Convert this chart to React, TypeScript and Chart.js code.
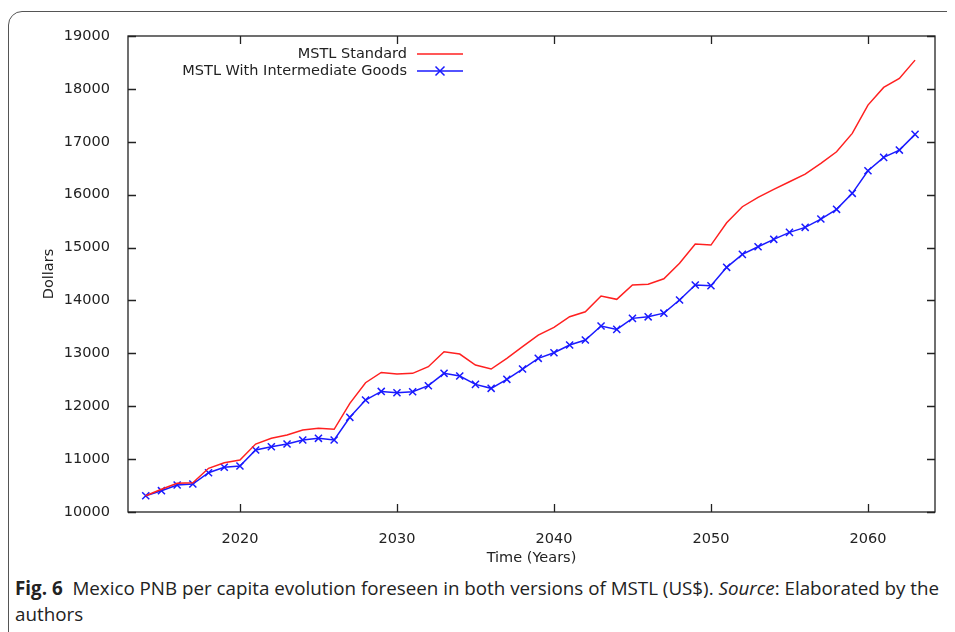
import React, { useEffect, useRef } from "react";
import { Chart, registerables } from "chart.js";

Chart.register(...registerables);

const years = [
  2014, 2015, 2016, 2017, 2018, 2019, 2020, 2021, 2022, 2023,
  2024, 2025, 2026, 2027, 2028, 2029, 2030, 2031, 2032, 2033,
  2034, 2035, 2036, 2037, 2038, 2039, 2040, 2041, 2042, 2043,
  2044, 2045, 2046, 2047, 2048, 2049, 2050, 2051, 2052, 2053,
  2054, 2055, 2056, 2057, 2058, 2059, 2060, 2061, 2062, 2063,
];

const standard = [
  10308, 10429, 10542, 10554, 10826, 10932, 10983, 11285, 11393, 11455,
  11550, 11582, 11563, 12055, 12444, 12638, 12609, 12622, 12747, 13031,
  12987, 12779, 12703, 12905, 13125, 13346, 13491, 13692, 13786, 14083,
  14021, 14291, 14307, 14410, 14702, 15066, 15047, 15469, 15772, 15949,
  16100, 16244, 16389, 16592, 16811, 17159, 17694, 18028, 18198, 18544,
];

const intermediate = [
  10308, 10403, 10510, 10529, 10743, 10845, 10870, 11172, 11234, 11285,
  11361, 11393, 11361, 11790, 12117, 12280, 12255, 12274, 12388, 12622,
  12571, 12413, 12338, 12508, 12703, 12905, 13012, 13157, 13251, 13516,
  13453, 13661, 13690, 13760, 14008, 14291, 14278, 14626, 14871, 15015,
  15155, 15287, 15382, 15539, 15722, 16025, 16452, 16705, 16843, 17140,
];

const xTicks = [2020, 2030, 2040, 2050, 2060];
const yTicks = [10000, 11000, 12000, 13000, 14000, 15000, 16000, 17000, 18000, 19000];
const seriesLabels = ["MSTL Standard", "MSTL With Intermediate Goods"];
const xTitle = "Time (Years)";
const yTitle = "Dollars";

const RED = "#ff2020";
const BLUE = "#1a1aff";
const FONT = "DejaVu Sans";
const FS = 14.5;
const TXT = "#222";

const framePlugin = {
  id: "gnuFrame",
  afterDatasetsDraw(chart: any) {
    const { ctx, chartArea: a, scales } = chart;
    ctx.save();
    ctx.strokeStyle = "#222";
    ctx.lineWidth = 1.3;
    ctx.strokeRect(a.left, a.top, a.right - a.left, a.bottom - a.top);
    const L = 8;
    ctx.beginPath();
    scales.x.ticks.forEach((t: any) => {
      const px = Math.round(scales.x.getPixelForValue(t.value)) + 0.5;
      ctx.moveTo(px, a.bottom);
      ctx.lineTo(px, a.bottom - L);
      ctx.moveTo(px, a.top);
      ctx.lineTo(px, a.top + L);
    });
    scales.y.ticks.forEach((t: any) => {
      const py = Math.round(scales.y.getPixelForValue(t.value)) + 0.5;
      ctx.moveTo(a.left, py);
      ctx.lineTo(a.left + L, py);
      ctx.moveTo(a.right, py);
      ctx.lineTo(a.right - L, py);
    });
    ctx.stroke();

    // legend (top right, text right-aligned, sample to the right)
    ctx.font = `${FS}px "${FONT}"`;
    ctx.fillStyle = TXT;
    ctx.textAlign = "right";
    ctx.textBaseline = "middle";
    const tx = 399;
    const rows = [38, 55];
    const colors = [RED, BLUE];
    seriesLabels.forEach((lab, i) => {
      ctx.fillText(lab, tx, rows[i]);
      ctx.strokeStyle = colors[i];
      ctx.lineWidth = 1.5;
      ctx.beginPath();
      ctx.moveTo(tx + 10, rows[i]);
      ctx.lineTo(tx + 56, rows[i]);
      ctx.stroke();
    });
    // marker in legend
    const mx = tx + 33;
    const my = rows[1];
    const r = 4.5;
    ctx.strokeStyle = BLUE;
    ctx.beginPath();
    ctx.moveTo(mx - r, my - r);
    ctx.lineTo(mx + r, my + r);
    ctx.moveTo(mx - r, my + r);
    ctx.lineTo(mx + r, my - r);
    ctx.stroke();
    ctx.restore();
  },
};

export default function App() {
  const ref = useRef<HTMLCanvasElement | null>(null);

  useEffect(() => {
    if (!ref.current) return;
    const chart = new Chart(ref.current, {
      type: "line",
      data: {
        datasets: [
          {
            label: seriesLabels[0],
            data: years.map((yr, i) => ({ x: yr, y: standard[i] })),
            borderColor: RED,
            borderWidth: 1.5,
            pointRadius: 0,
            tension: 0,
            fill: false,
          },
          {
            label: seriesLabels[1],
            data: years.map((yr, i) => ({ x: yr, y: intermediate[i] })),
            borderColor: BLUE,
            borderWidth: 1.5,
            pointStyle: "crossRot",
            pointRadius: 5,
            pointBorderColor: BLUE,
            pointBorderWidth: 1.5,
            tension: 0,
            fill: false,
          },
        ],
      },
      options: {
        animation: false,
        responsive: false,
        devicePixelRatio: 1,
        layout: { padding: { left: 0, right: 20, top: 20, bottom: 0 } },
        plugins: {
          legend: { display: false },
          tooltip: { enabled: false },
        },
        scales: {
          x: {
            type: "linear",
            min: 2012.87,
            max: 2064.27,
            grid: { display: false },
            border: { display: false },
            afterBuildTicks: (s: any) => {
              s.ticks = xTicks.map((v) => ({ value: v }));
            },
            afterFit: (s: any) => {
              s.height = 63;
            },
            ticks: {
              autoSkip: false,
              maxRotation: 0,
              padding: 11,
              color: TXT,
              font: { family: FONT, size: FS },
              callback: (v: any) => String(v),
            },
            title: {
              display: true,
              text: xTitle,
              color: TXT,
              font: { family: FONT, size: FS },
              padding: { top: 0, bottom: 8 },
            },
          },
          y: {
            type: "linear",
            min: 10000,
            max: 19000,
            grid: { display: false },
            border: { display: false },
            afterBuildTicks: (s: any) => {
              s.ticks = yTicks.map((v) => ({ value: v }));
            },
            afterFit: (s: any) => {
              s.width = 120;
            },
            ticks: {
              autoSkip: false,
              padding: 10,
              color: TXT,
              font: { family: FONT, size: FS },
              callback: (v: any) => String(v),
            },
            title: {
              display: true,
              text: yTitle,
              color: TXT,
              font: { family: FONT, size: FS },
              padding: { top: 33, bottom: 0 },
            },
          },
        },
      },
      plugins: [framePlugin],
    });
    return () => chart.destroy();
  }, []);

  return (
    <div style={{ position: "relative", width: 947, height: 624, overflow: "hidden" }}>
      <div
        style={{
          position: "absolute",
          left: 0,
          top: 3,
          width: 1100,
          height: 1100,
          border: "1.5px solid #555",
          borderTopLeftRadius: 14,
          boxSizing: "border-box",
        }}
      />
      <canvas
        ref={ref}
        width={947}
        height={559}
        style={{ position: "absolute", left: 0, top: 8, width: 947, height: 559 }}
      />
      <div
        style={{
          position: "absolute",
          left: 7,
          top: 567,
          fontFamily: '"Open Sans", sans-serif',
          fontSize: 18.8,
          lineHeight: "26px",
          color: "#222",
          whiteSpace: "nowrap",
          letterSpacing: "0px",
        }}
      >
        <b>Fig.&nbsp;6</b>&nbsp;&nbsp;Mexico PNB per capita evolution foreseen in both versions of MSTL (US$).{" "}
        <i>Source</i>: Elaborated by the
        <br />
        authors
      </div>
    </div>
  );
}
